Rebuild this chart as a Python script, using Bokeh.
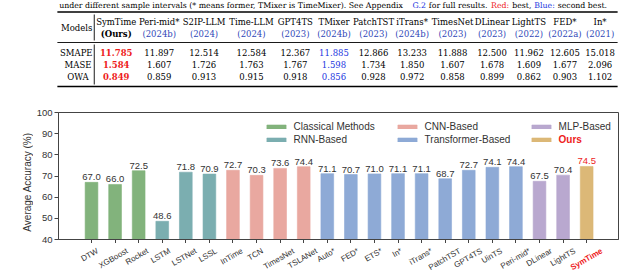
import math
from bokeh.plotting import figure
from bokeh.models import (Range1d, FixedTicker, Legend, LegendItem,
                          ColumnDataSource, CDSView, GroupFilter)
from bokeh.layouts import column, row
from bokeh.core.properties import value
from bokeh.embed import file_html
from bokeh.resources import INLINE

# ---------------- table data ----------------
table_models = ["SymTime", "Peri-mid*", "S2IP-LLM", "Time-LLM", "GPT4TS", "TMixer",
                "PatchTST", "iTrans*", "TimesNet", "DLinear", "LightTS", "FED*", "In*"]
table_years = ["(Ours)", "(2024b)", "(2024)", "(2024)", "(2023)", "(2024b)",
               "(2023)", "(2024b)", "(2023)", "(2023)", "(2022)", "(2022a)", "(2021)"]
smape = [11.785, 11.897, 12.514, 12.584, 12.367, 11.885, 12.866, 13.233, 11.888, 12.500, 11.962, 12.605, 15.018]
mase = [1.584, 1.607, 1.726, 1.763, 1.767, 1.598, 1.734, 1.850, 1.607, 1.678, 1.609, 1.677, 2.096]
owa = [0.849, 0.859, 0.913, 0.915, 0.918, 0.856, 0.928, 0.972, 0.858, 0.899, 0.862, 0.903, 1.102]
metric_names = ["SMAPE", "MASE", "OWA"]
caption_pieces = ["under different sample intervals (* means former, TMixer is TimeMixer). See Appendix",
                  "G.2", "for full results.", "Red:", "best,", "Blue:", "second best."]

# ---------------- chart data ----------------
methods = ["DTW", "XGBoost", "Rocket", "LSTM", "LSTNet", "LSSL", "InTime", "TCN", "TimesNet",
           "TSLANet", "Auto*", "FED*", "ETS*", "In*", "iTrans*", "PatchTST", "GPT4TS", "UinTS",
           "Peri-mid*", "DLinear", "LightTS", "SymTime"]
accuracy = [67.0, 66.0, 72.5, 48.6, 71.8, 70.9, 72.7, 70.3, 73.6, 74.4, 71.1, 70.7, 71.0, 71.1,
            71.1, 68.7, 72.7, 74.1, 74.4, 67.5, 70.4, 74.5]
groups = (["Classical Methods"] * 3 + ["RNN-Based"] * 3 + ["CNN-Based"] * 4 +
          ["Transformer-Based"] * 9 + ["MLP-Based"] * 2 + ["Ours"])
group_names = ["Classical Methods", "RNN-Based", "CNN-Based", "Transformer-Based", "MLP-Based", "Ours"]
y_ticks = [40, 50, 60, 70, 80, 90, 100]
y_title = "Average Accuracy (%)"

# ---------------- styles ----------------
group_colors = {"Classical Methods": "#82b37c", "RNN-Based": "#7baeb0", "CNN-Based": "#e9a8a0",
                "Transformer-Based": "#8eaad6", "MLP-Based": "#b9a8cf", "Ours": "#dcb877"}
RED = "#ee1c1c"
BLUE = "#2236e0"
YEAR_BLUE = "#3047b8"
INK = "#333333"
SERIF = value("DejaVu Serif")
SANS = "Liberation Sans"
W = 640
TH = 95                      # table figure height
HC = 148                     # chart figure height
HL = 272 - TH - HC           # tick-label strip height
YLAB_W = 33                  # width of the y-title strip
XR = (-1.4, len(methods) - 1 + 1.35)

# approximate serif advance widths (em), used to lay out the caption pieces
_dvs = {' ': .318, '(': .39, ')': .39, '*': .5, ',': .318, '.': .318, ':': .337, '2': .636,
        'A': .722, 'B': .733, 'G': .775, 'M': .995, 'R': .770, 'S': .685, 'T': .668,
        'a': .596, 'b': .640, 'c': .560, 'd': .640, 'e': .592, 'f': .370, 'g': .640, 'h': .644,
        'i': .320, 'l': .320, 'm': .948, 'n': .644, 'o': .602, 'p': .640, 'r': .478, 's': .513,
        't': .402, 'u': .644, 'v': .565, 'x': .564, 'y': .565}
K_SERIF = 1.16
# approximate Arial / Liberation Sans advance widths (em), used to centre rotated labels
_ar = {'A': .667, 'B': .667, 'C': .722, 'D': .722, 'E': .667, 'F': .611, 'G': .778, 'I': .278,
       'L': .556, 'M': .833, 'N': .722, 'P': .667, 'R': .722, 'S': .667, 'T': .611, 'U': .722,
       'W': .944, 'X': .667, 'a': .556, 'b': .556, 'c': .5, 'd': .556, 'e': .556, 'g': .556,
       'h': .556, 'i': .222, 'k': .5, 'l': .222, 'm': .833, 'n': .556, 'o': .556, 'r': .333,
       's': .5, 't': .278, 'u': .556, 'y': .5, '*': .389, '-': .333}
_arb = {'S': .667, 'y': .556, 'm': .889, 'T': .611, 'i': .278, 'e': .556}


def em(s, table, default=.55):
    return sum(table.get(ch, default) for ch in s)


def bare(fig):
    fig.grid.visible = False
    return fig


# ---------------- table figure ----------------
t = bare(figure(width=W, height=TH, x_range=Range1d(0, W), y_range=Range1d(TH, 0),
                x_axis_type=None, y_axis_type=None, output_backend="svg", toolbar_location=None,
                min_border=0, outline_line_color=None))

col_x = [68, 117, 168, 222, 272, 316, 361, 405, 451, 496, 538, 579, 619]

# caption line (shown whole), pieces laid out one after the other
total = em(" ".join(caption_pieces), _dvs) * K_SERIF
CAP = min(8.3, 625.0 / total)
sp = _dvs[' '] * CAP * K_SERIF
cap_x, acc = [], 3.0
for s in caption_pieces:
    cap_x.append(acc)
    acc += em(s, _dvs) * CAP * K_SERIF + sp
t.text(x=cap_x, y=[4.8] * len(cap_x), text=caption_pieces, text_align="left",
       text_baseline="middle", text_color=["black", BLUE, "black", RED, "black", BLUE, "black"],
       text_font=SERIF, text_font_size="%.2fpx" % CAP)

# rules
t.segment(x0=[1, 1, 1], y0=[11.5, 42, 86], x1=[639, 639, 639], y1=[11.5, 42, 86],
          line_color="black", line_width=[1.6, 0.9, 1.6])
t.segment(x0=[43, 43], y0=[14, 44], x1=[43, 43], y1=[40, 84], line_color="black", line_width=0.9)

FS = "8.5px"
t.text(x=[23], y=[27], text=["Models"], text_align="center", text_baseline="middle",
       text_font=SERIF, text_font_size=FS, text_color="black")
t.text(x=[22.5, 24.5, 24.5], y=[52, 64, 76], text=metric_names, text_align="center",
       text_baseline="middle", text_font=SERIF, text_font_size=FS, text_color="black")

hdr = ColumnDataSource(dict(x=col_x, y=[21.5] * len(col_x), text=table_models))
t.text(x="x", y="y", text="text", source=hdr, text_align="center", text_baseline="middle",
       text_font=SERIF, text_font_size=FS, text_color="black")
yr_col = ["black" if y == "(Ours)" else YEAR_BLUE for y in table_years]
yr_sty = ["bold" if y == "(Ours)" else "normal" for y in table_years]
yrs = ColumnDataSource(dict(x=col_x, y=[33] * len(col_x), text=table_years, c=yr_col, s=yr_sty))
t.text(x="x", y="y", text="text", source=yrs, text_align="center", text_baseline="middle",
       text_font=SERIF, text_font_size=FS, text_color="c", text_font_style="s")


def rank_style(vals):
    order = sorted(range(len(vals)), key=lambda i: vals[i])
    cols = ["black"] * len(vals)
    sty = ["normal"] * len(vals)
    cols[order[0]] = RED
    sty[order[0]] = "bold"
    cols[order[1]] = BLUE
    return cols, sty


for vals, yy in zip([smape, mase, owa], [52, 64, 76]):
    cols, sty = rank_style(vals)
    src = ColumnDataSource(dict(x=col_x, y=[yy] * len(col_x), text=["%.3f" % v for v in vals],
                                c=cols, s=sty))
    t.text(x="x", y="y", text="text", source=src, text_align="center", text_baseline="middle",
           text_font=SERIF, text_font_size=FS, text_color="c", text_font_style="s")

# ---------------- y title strip ----------------
yl = bare(figure(width=YLAB_W, height=HC, x_range=Range1d(0, YLAB_W), y_range=Range1d(0, HC),
                 x_axis_type=None, y_axis_type=None, output_backend="svg", toolbar_location=None,
                 min_border=0, outline_line_color=None))
yl.text(x=[26.7], y=[HC - 81], text=[y_title], angle=math.pi / 2, text_align="center",
        text_baseline="middle", text_font=value(SANS), text_font_size="10px", text_color=INK)

# ---------------- bar chart ----------------
n = len(methods)
xr = Range1d(*XR)
p = bare(figure(width=W - YLAB_W, height=HC, x_range=xr, y_range=Range1d(40, 100),
                output_backend="svg", toolbar_location=None,
                min_border_left=56 - YLAB_W, min_border_right=22, min_border_top=17,
                min_border_bottom=4))
p.outline_line_color = "#444444"
p.outline_line_width = 1

idx = list(range(n))
src = ColumnDataSource(dict(x=idx, top=accuracy, group=groups,
                            color=[group_colors[g] for g in groups],
                            label=["%.1f" % a for a in accuracy],
                            lc=[RED if g == "Ours" else INK for g in groups]))

rends = {}
for g in group_names:
    view = CDSView(filter=GroupFilter(column_name="group", group=g))
    rends[g] = p.vbar(x="x", top="top", bottom=40, width=0.54, source=src, view=view,
                      fill_color="color", line_color="color", line_alpha=0.6)

p.text(x="x", y="top", text="label", source=src, text_align="center", text_baseline="bottom",
       y_offset=-2, text_font=value(SANS), text_font_size="9.5px", text_color="lc")

p.yaxis.ticker = FixedTicker(ticks=y_ticks)
p.yaxis.major_label_text_font = SANS
p.yaxis.major_label_text_font_size = "9.5px"
p.yaxis.major_label_text_color = INK
p.yaxis.major_label_standoff = 2

p.xaxis.ticker = FixedTicker(ticks=idx)
p.xaxis.major_label_overrides = {i: "" for i in idx}
p.xaxis.major_label_text_font_size = "0px"
p.xaxis.major_label_standoff = 0

for ax in (p.xaxis, p.yaxis):
    ax.axis_line_color = "#444444"
    ax.major_tick_line_color = "#444444"
    ax.major_tick_out = 4
    ax.major_tick_in = 0
    ax.minor_tick_line_color = None


def mk_legend(names, loc, color=INK, style="normal"):
    items = [LegendItem(label=nm, renderers=[rends[nm]]) for nm in names]
    lg = Legend(items=items, location=loc, orientation="vertical",
                label_text_font=SANS, label_text_font_size="10px", label_text_color=color,
                label_text_font_style=style, glyph_width=24, glyph_height=5, label_height=13,
                label_standoff=6, spacing=0, padding=0, margin=0,
                border_line_color=None, background_fill_alpha=0)
    p.add_layout(lg)


mk_legend(["Classical Methods", "RNN-Based"], (205.6, 93.5))
mk_legend(["CNN-Based", "Transformer-Based"], (336.6, 93.5))
mk_legend(["MLP-Based"], (470.6, 106.5))
mk_legend(["Ours"], (470.6, 93.5), color=RED, style="bold")

# ---------------- rotated tick-label strip (shares the chart's x scale) ----------------
ANG = math.radians(30)
LFS = 8.0
top_px = 3.0
lab_w = [(em(m, _arb) if g == "Ours" else em(m, _ar)) * LFS for m, g in zip(methods, groups)]
lab_y = [HL - (top_px + (w * math.sin(ANG) + 1.1 * LFS * math.cos(ANG)) / 2) for w in lab_w]
lsrc = ColumnDataSource(dict(x=idx, y=lab_y, text=methods,
                             c=[RED if g == "Ours" else INK for g in groups],
                             s=["bold" if g == "Ours" else "normal" for g in groups]))
lb = bare(figure(width=W, height=HL, x_range=xr, y_range=Range1d(0, HL),
                 x_axis_type=None, y_axis_type=None, output_backend="svg", toolbar_location=None,
                 min_border_left=56, min_border_right=22, min_border_top=0, min_border_bottom=0,
                 outline_line_color=None))
lb.text(x="x", y="y", text="text", source=lsrc, angle=ANG, text_align="center",
        text_baseline="middle", text_font=value(SANS), text_font_size="%.1fpx" % LFS,
        text_color="c", text_font_style="s")

layout = column(t, row(yl, p, spacing=0), lb, spacing=0)
open("out.html", "w").write(file_html(layout, INLINE))
